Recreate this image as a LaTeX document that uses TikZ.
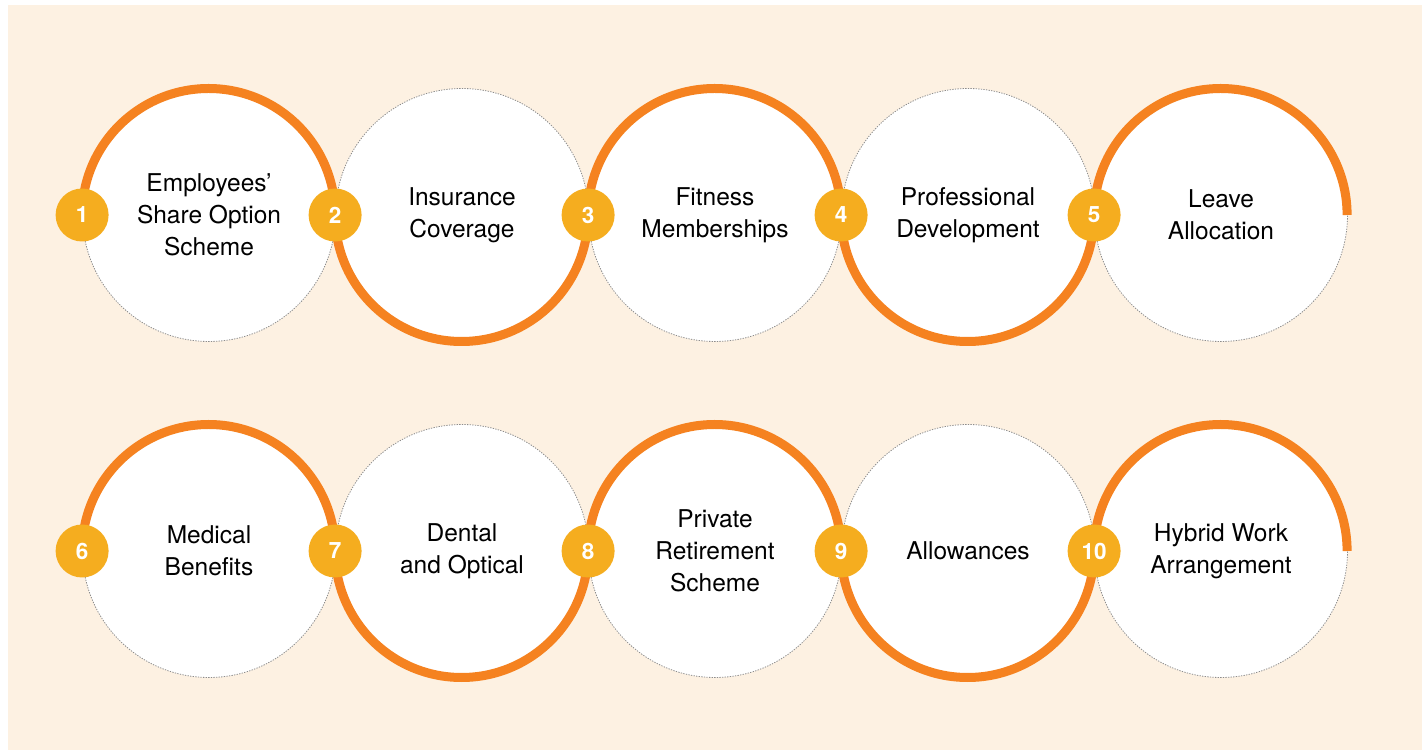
\documentclass[tikz,border=0pt]{standalone}
\usepackage{fontspec}
\setmainfont{TeX Gyre Heros}
\usepackage{xcolor}
\definecolor{cream}{HTML}{FDF1E2}
\definecolor{ringorange}{HTML}{F58220}
\definecolor{badgeamber}{HTML}{F5AD1F}
\definecolor{rimgray}{HTML}{8C8C8C}

\tikzset{
  benefit/.style={circle, minimum size=253pt, inner sep=0pt, fill=white,
    draw=rimgray, line width=0.8pt, dash pattern=on 1.3pt off 1.3pt,
    align=center, text=black, font=\fontsize{24.5}{32}\selectfont},
  ring/.style={draw=ringorange, line width=9pt},
  badge/.style={circle, minimum size=53pt, inner sep=0pt, fill=badgeamber,
    text=white, font=\fontsize{22.5}{22.5}\selectfont\bfseries}
}

\begin{document}
\begin{tikzpicture}[x=1pt,y=1pt]
\useasboundingbox (0,0) rectangle (1422,750);
\fill[cream] (8,0) rectangle (1422,745);

% first row
\node[benefit] (c1) at (209,535) {Employees’\\Share Option\\Scheme};
\node[benefit] (c2) at (462,535) {Insurance\\Coverage};
\node[benefit] (c3) at (715,535) {Fitness\\Memberships};
\node[benefit] (c4) at (968,535) {Professional\\Development};
\node[benefit] (c5) at (1221,535) {Leave\\Allocation};

% second row
\node[benefit] (c6) at (209,199) {Medical\\Benefits};
\node[benefit] (c7) at (462,199) {Dental\\and Optical};
\node[benefit] (c8) at (715,199) {Private\\Retirement\\Scheme};
\node[benefit] (c9) at (968,199) {Allowances};
\node[benefit] (c10) at (1221,199) {Hybrid Work\\Arrangement};

% orange half rings, up and down in turn
\draw[ring] (c1.west) arc[start angle=180, end angle=0, radius=126.5];
\draw[ring] (c2.west) arc[start angle=180, end angle=360, radius=126.5];
\draw[ring] (c3.west) arc[start angle=180, end angle=0, radius=126.5];
\draw[ring] (c4.west) arc[start angle=180, end angle=360, radius=126.5];
\draw[ring] (c5.west) arc[start angle=180, end angle=0, radius=126.5];
\draw[ring] (c6.west) arc[start angle=180, end angle=0, radius=126.5];
\draw[ring] (c7.west) arc[start angle=180, end angle=360, radius=126.5];
\draw[ring] (c8.west) arc[start angle=180, end angle=0, radius=126.5];
\draw[ring] (c9.west) arc[start angle=180, end angle=360, radius=126.5];
\draw[ring] (c10.west) arc[start angle=180, end angle=0, radius=126.5];

% numbers
\node[badge] (b1) at (c1.west) {1};
\node[badge] (b2) at (c2.west) {2};
\node[badge] (b3) at (c3.west) {3};
\node[badge] (b4) at (c4.west) {4};
\node[badge] (b5) at (c5.west) {5};
\node[badge] (b6) at (c6.west) {6};
\node[badge] (b7) at (c7.west) {7};
\node[badge] (b8) at (c8.west) {8};
\node[badge] (b9) at (c9.west) {9};
\node[badge] (b10) at (c10.west) {10};
\end{tikzpicture}
\end{document}
